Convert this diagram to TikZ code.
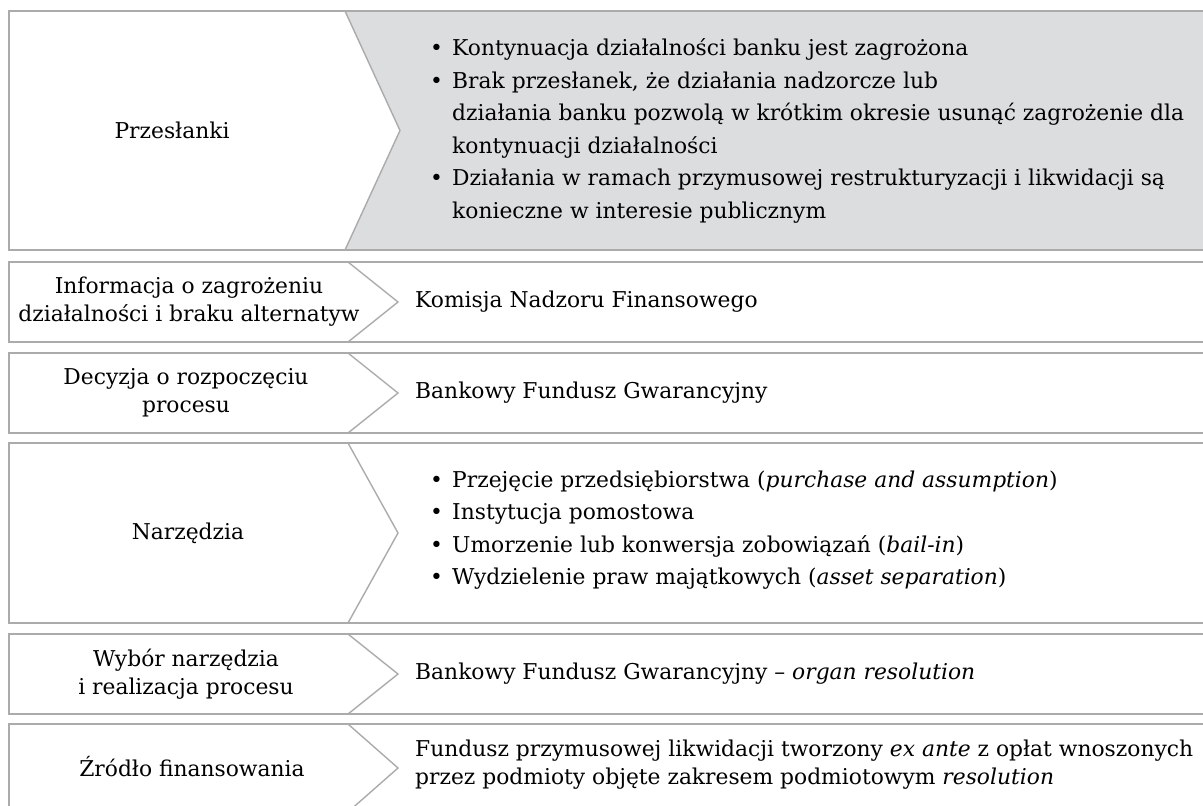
\documentclass[tikz,border=0pt]{standalone}
\usepackage{fontspec}
\setmainfont{DejaVu Serif}
\definecolor{edgegray}{HTML}{ABABAB}
\definecolor{fillgray}{HTML}{DCDDDF}
\tikzset{
  rowedge/.style={draw=edgegray, line width=1.4pt},
  lefttext/.style={align=center, inner sep=0pt, font=\fontsize{21.8}{28}\selectfont},
  righttext/.style={align=left, anchor=west, inner sep=0pt, font=\fontsize{21.8}{28}\selectfont},
  bullettext/.style={align=left, anchor=west, inner sep=0pt, font=\fontsize{21.8}{32.5}\selectfont},
}
\newcommand{\bul}{\makebox[22pt][l]{•}}
\newcommand{\cont}{\hspace*{22pt}}
\begin{document}
\begin{tikzpicture}[x=1pt,y=-1pt]
\useasboundingbox (0,0) rectangle (1203,806);
\clip (0,0) rectangle (1203,806);
% row 1
\fill[fillgray] (345,11) -- (1260,11) -- (1260,250) -- (345,250) -- (400,130.5) -- cycle;
\draw[rowedge] (9,11) rectangle (1260,250);
\draw[rowedge] (345,11) -- (400,130.5) -- (345,250);
% other rows
\foreach \t/\b in {262/342, 353/433, 443/623, 634/714, 724/812}{
  \draw[rowedge] (9,\t) rectangle (1260,\b);
  \draw[rowedge] (348,\t) -- (398,{(\t+\b)/2}) -- (348,\b);
}
% texts
\node[lefttext] (l1) at (172,130.5) {Przesłanki};
\node[bullettext] (r1) at (430,131) {\bul Kontynuacja działalności banku jest zagrożona\\
\bul Brak przesłanek, że działania nadzorcze lub\\
\cont działania banku pozwolą w krótkim okresie usunąć zagrożenie dla\\
\cont kontynuacji działalności\\
\bul Działania w ramach przymusowej restrukturyzacji i likwidacji są\\
\cont konieczne w interesie publicznym};

\node[lefttext] (l2) at (189,302) {Informacja o zagrożeniu\\działalności i braku alternatyw};
\node[righttext] (r2) at (415,302) {Komisja Nadzoru Finansowego};

\node[lefttext] (l3) at (186,393) {Decyzja o rozpoczęciu\\procesu};
\node[righttext] (r3) at (415,393) {Bankowy Fundusz Gwarancyjny};

\node[lefttext] (l4) at (188,533) {Narzędzia};
\node[bullettext] (r4) at (430,530) {\bul Przejęcie przedsiębiorstwa (\textit{purchase and assumption})\\
\bul Instytucja pomostowa\\
\bul Umorzenie lub konwersja zobowiązań (\textit{bail-in})\\
\bul Wydzielenie praw majątkowych (\textit{asset separation})};

\node[lefttext] (l5) at (186,674) {Wybór narzędzia\\i realizacja procesu};
\node[righttext] (r5) at (415,674) {Bankowy Fundusz Gwarancyjny – \textit{organ resolution}};

\node[lefttext] (l6) at (192,767) {Źródło finansowania};
\node[righttext] (r6) at (415,765) {Fundusz przymusowej likwidacji tworzony \textit{ex ante} z opłat wnoszonych\\
przez podmioty objęte zakresem podmiotowym \textit{resolution}};
\end{tikzpicture}
\end{document}
